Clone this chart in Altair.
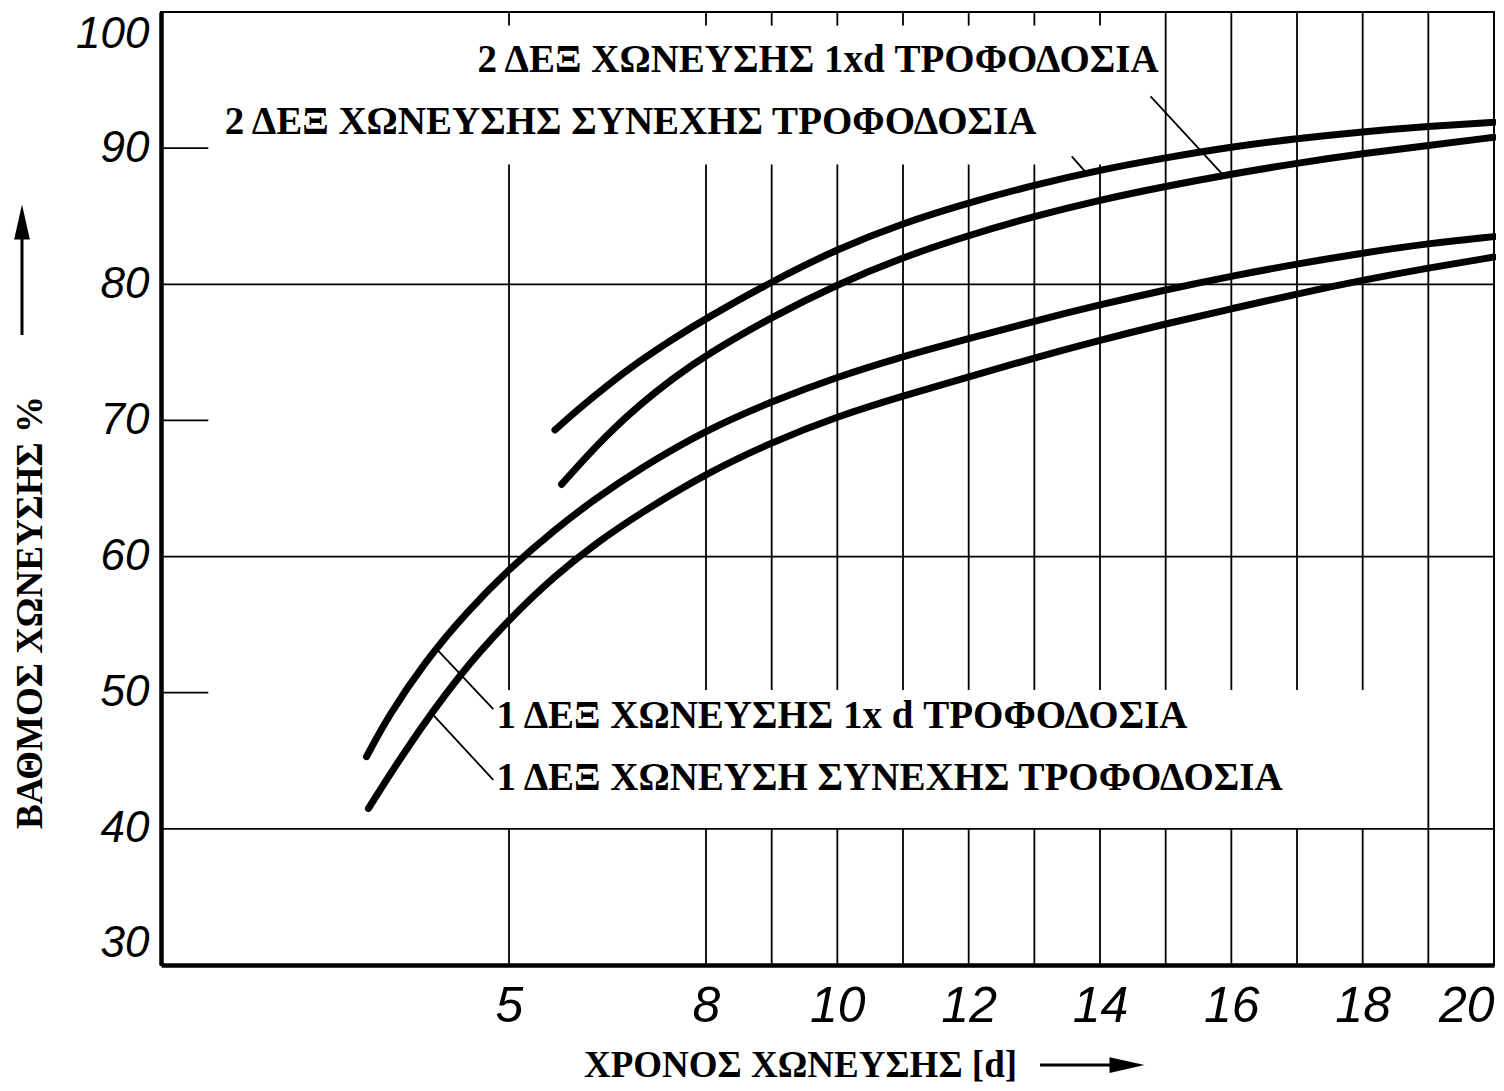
import altair as alt
import pandas as pd

# ---------------- data ----------------
# two-stage digestion, continuous feeding (top curve)
days_2c = [5.7, 6.0, 6.5, 7.0, 7.5, 8, 9, 10, 11, 12, 13, 14, 15, 16, 17, 18, 19, 20]
vals_2c = [69.3, 70.6, 72.6, 74.4, 76.0, 77.5, 80.2, 82.6, 84.5, 86.0, 87.3, 88.4, 89.3, 90.1, 90.7, 91.2, 91.6, 91.9]
# two-stage digestion, feeding once per day
days_2d = [5.8, 6.0, 6.5, 7.0, 7.5, 8, 9, 10, 11, 12, 13, 14, 15, 16, 17, 18, 19, 20]
vals_2d = [65.3, 66.4, 69.0, 71.2, 73.1, 74.8, 77.6, 80.0, 82.0, 83.6, 85.0, 86.2, 87.2, 88.1, 88.9, 89.6, 90.2, 90.8]
# single-stage digestion, feeding once per day
days_1d = [2.83, 3.15, 3.72, 4.35, 5.0, 5.7, 6.3, 7.0, 8, 9, 10, 11, 12, 13, 14, 15, 16, 17, 18, 19, 20]
vals_1d = [45.3, 48.2, 52.3, 55.9, 59.1, 62.0, 64.2, 66.5, 69.3, 71.4, 73.2, 74.7, 76.0, 77.3, 78.5, 79.6, 80.6, 81.5, 82.3, 83.0, 83.5]
# single-stage digestion, continuous feeding (lowest curve)
days_1c = [2.86, 3.42, 4.25, 5.0, 5.7, 6.3, 7.0, 8, 9, 10, 11, 12, 13, 14, 15, 16, 17, 18, 19, 20]
vals_1c = [41.5, 45.8, 51.4, 55.4, 58.6, 60.9, 63.2, 66.1, 68.4, 70.3, 71.8, 73.2, 74.6, 75.9, 77.1, 78.2, 79.3, 80.3, 81.2, 82.0]

series_names = ["2c", "2d", "1d", "1c"]

# axis ticks
x_ticks = [5, 8, 10, 12, 14, 16, 18, 20]
y_ticks = [30, 40, 50, 60, 70, 80, 90, 100]
x_domain = [-0.3, 20]
y_domain = [30, 100]

# grid structure (days / percent)
grid_days_upper = [5, 8, 9, 10, 11, 12, 13, 14]   # start below the top labels
grid_days_long = [15, 16, 17, 18]                 # start at the top border
grid_days_full = [19]                             # run the full height
grid_upper_start = 88.8
grid_top_tick_end = 99.0
grid_gap_top = 50.2
grid_gap_bottom = 40
h_full = [40, 60, 80]
h_short = [50, 70, 90]
h_short_end = 0.42

# annotations
label_texts = [
    "2 ΔΕΞ ΧΩΝΕΥΣΗΣ 1xd ΤΡΟΦΟΔΟΣΙΑ",
    "2 ΔΕΞ ΧΩΝΕΥΣΗΣ ΣΥΝΕΧΗΣ ΤΡΟΦΟΔΟΣΙΑ",
    "1 ΔΕΞ ΧΩΝΕΥΣΗΣ 1x d ΤΡΟΦΟΔΟΣΙΑ",
    "1 ΔΕΞ ΧΩΝΕΥΣΗ ΣΥΝΕΧΗΣ ΤΡΟΦΟΔΟΣΙΑ",
]
label_d = [4.52, 0.67, 4.81, 4.81]
label_v = [96.5, 91.9, 48.3, 43.7]
leader_d1 = [14.77, 13.57, 3.88, 3.82]
leader_v1 = [93.8, 89.4, 53.3, 48.5]
leader_d2 = [15.88, 13.77, 4.76, 4.76]
leader_v2 = [88.0, 88.3, 48.8, 43.6]

# ---------------- tables ----------------
rows = []
for name, ds, vs in zip(series_names, [days_2c, days_2d, days_1d, days_1c],
                        [vals_2c, vals_2d, vals_1d, vals_1c]):
    for d, v in zip(ds, vs):
        rows.append({"series": name, "d": d, "v": v})
curves = pd.DataFrame(rows)

vg = []
for d in grid_days_upper:
    vg.append({"d": d, "v": grid_upper_start, "v2": grid_gap_top})
    vg.append({"d": d, "v": y_domain[1], "v2": grid_top_tick_end})
    vg.append({"d": d, "v": grid_gap_bottom, "v2": y_domain[0]})
for d in grid_days_long:
    vg.append({"d": d, "v": y_domain[1], "v2": grid_gap_top})
    vg.append({"d": d, "v": grid_gap_bottom, "v2": y_domain[0]})
for d in grid_days_full:
    vg.append({"d": d, "v": y_domain[1], "v2": y_domain[0]})
vgrid = pd.DataFrame(vg)

hg = [{"v": v, "d": x_domain[0], "d2": x_domain[1]} for v in h_full]
hg += [{"v": v, "d": x_domain[0], "d2": h_short_end} for v in h_short]
hgrid = pd.DataFrame(hg)

labels = pd.DataFrame({"text": label_texts, "d": label_d, "v": label_v})
leaders = pd.DataFrame({"d": leader_d1, "v": leader_v1, "d2": leader_d2, "v2": leader_v2})

# ---------------- encodings ----------------
SERIF = "Liberation Serif"
SANS = "Liberation Sans"

x_axis = alt.Axis(
    values=x_ticks, grid=False, ticks=False, domain=True, domainColor="black", domainWidth=4.5,
    labelFont=SANS, labelFontStyle="italic", labelFontSize=50, labelColor="black",
    labelPadding=16, labelFlush=True, labelOverlap=False,
    title="ΧΡΟΝΟΣ ΧΩΝΕΥΣΗΣ [d]", titleFont=SERIF, titleFontWeight="bold", titleFontSize=37,
    titleColor="black", titleX=639, titleY=100, titleAlign="center", titleBaseline="middle",
)
y_axis = alt.Axis(
    values=y_ticks, grid=False, ticks=False, domain=True, domainColor="black", domainWidth=4.5,
    labelFont=SANS, labelFontStyle="italic", labelFontSize=44, labelColor="black",
    labelPadding=12, labelFlush=True, labelOverlap=False,
    title="ΒΑΘΜΟΣ ΧΩΝΕΥΣΗΣ %", titleFont=SERIF, titleFontWeight="bold", titleFontSize=37,
    titleColor="black", titleAngle=270, titleX=-131, titleY=600, titleAlign="center",
    titleBaseline="middle",
)
x_scale = alt.Scale(domain=x_domain, nice=False, zero=False)
y_scale = alt.Scale(domain=y_domain, nice=False, zero=False)


def X(field):
    return alt.X(f"{field}:Q", scale=x_scale, axis=x_axis)


def Y(field):
    return alt.Y(f"{field}:Q", scale=y_scale, axis=y_axis)


vlines = alt.Chart(vgrid).mark_rule(color="black", strokeWidth=1.8).encode(
    x=X("d"), y=Y("v"), y2="v2:Q"
)
hlines = alt.Chart(hgrid).mark_rule(color="black", strokeWidth=1.8).encode(
    x=X("d"), x2="d2:Q", y=Y("v")
)
lines = alt.Chart(curves).mark_line(
    color="black", strokeWidth=7, interpolate="basis", strokeCap="round"
).encode(x=X("d"), y=Y("v"), detail="series:N", order="d:Q")
leader_lines = alt.Chart(leaders).mark_rule(color="black", strokeWidth=1.8).encode(
    x=X("d"), y=Y("v"), x2="d2:Q", y2="v2:Q"
)
texts = alt.Chart(labels).mark_text(
    font=SERIF, fontWeight="bold", fontSize=39, align="left", baseline="middle", color="black"
).encode(x=X("d"), y=Y("v"), text="text:N")

one = pd.DataFrame({"k": [0]})
x_arrow_shaft = alt.Chart(one).mark_rule(color="black", strokeWidth=3).encode(
    x=alt.value(879), x2=alt.value(958), y=alt.value(1053)
)
x_arrow_head = alt.Chart(one).mark_point(
    shape="M1,0L-1,-0.45L-1,0.45Z", size=1225, filled=True, color="black", opacity=1
).encode(x=alt.value(966), y=alt.value(1053))
y_arrow_shaft = alt.Chart(one).mark_rule(color="black", strokeWidth=3).encode(
    x=alt.value(-139), y=alt.value(220), y2=alt.value(323)
)
y_arrow_head = alt.Chart(one).mark_point(
    shape="M0,-1L0.45,1L-0.45,1Z", size=1225, filled=True, color="black", opacity=1
).encode(x=alt.value(-139), y=alt.value(210))

chart = alt.layer(
    vlines, hlines, lines, leader_lines, texts,
    x_arrow_shaft, x_arrow_head, y_arrow_shaft, y_arrow_head,
).properties(
    width=1333, height=953,
    autosize=alt.AutoSizeParams(type="none"),
    padding={"left": 153, "top": 4, "right": 2, "bottom": 118},
    background="white",
).configure_view(stroke="black", strokeWidth=2)

chart.save("out.html", embed_options={"renderer": "svg", "actions": False})
